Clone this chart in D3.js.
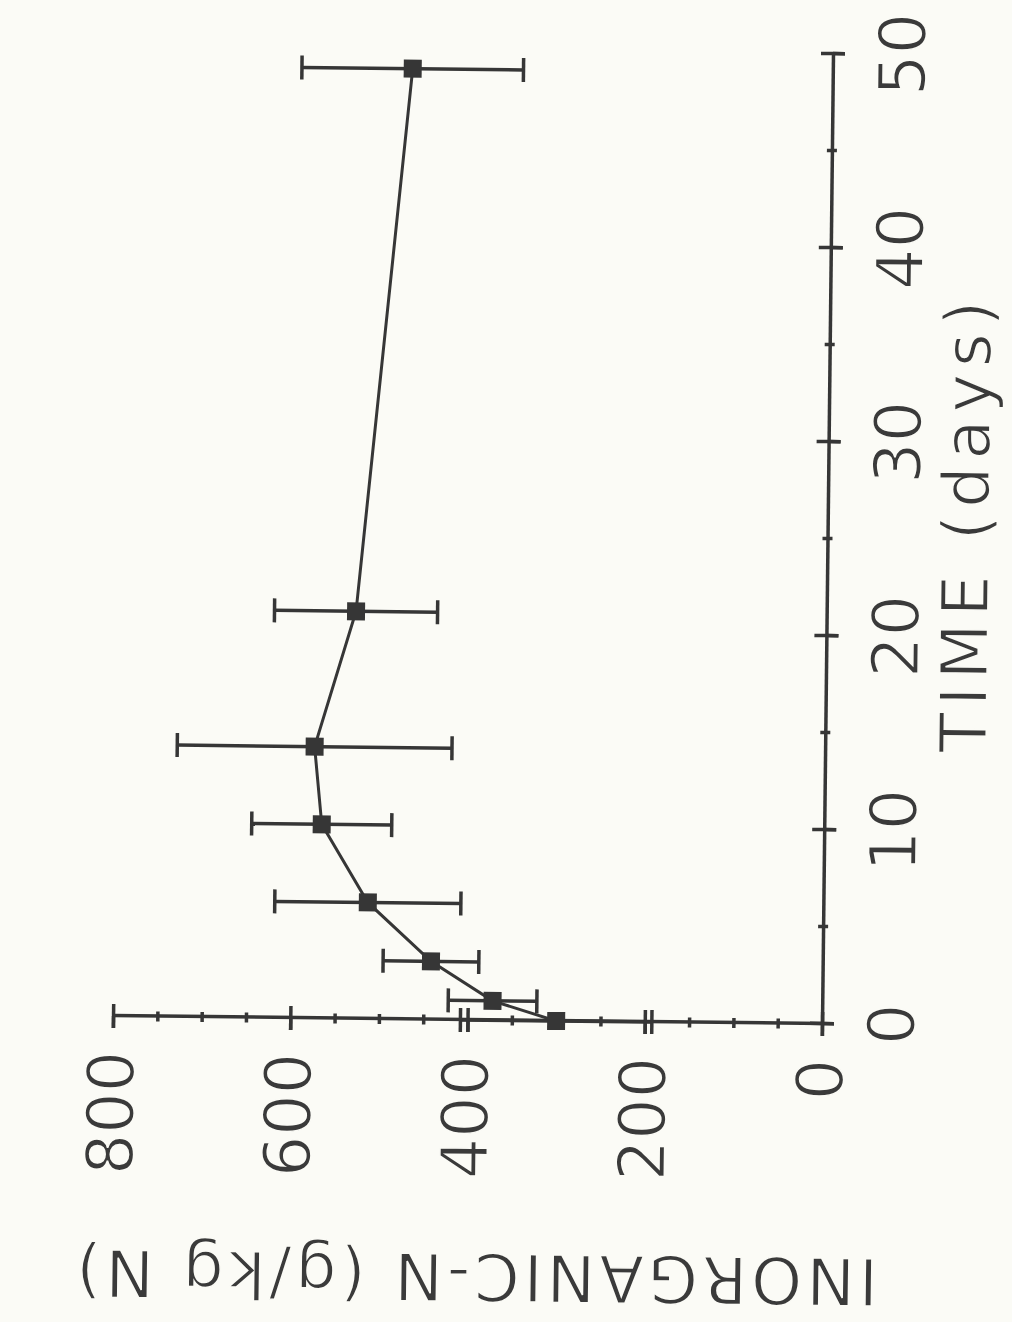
<!DOCTYPE html>
<html lang="en">
<head>
    <meta charset="UTF-8">
    <title>Inorganic N over time</title>
    <script src="https://cdn.jsdelivr.net/npm/d3@7"></script>
    <style>
        html, body {
            margin: 0;
            padding: 0;
            background: #fbfbf6;
        }
        .axis path, .axis line, .err, .cap {
            stroke: #363636;
            stroke-width: 3.5px;
        }
        .trend {
            fill: none;
            stroke: #363636;
            stroke-width: 3px;
        }
        /* thin the glyphs a little so they look like pen strokes */
        text {
            font-family: "DejaVu Sans", sans-serif;
            fill: #3a3a3a;
            stroke: #fbfbf6;
            stroke-width: 1.5px;
        }
    </style>
</head>
<body>
</body>
<script>
    // data
    const timeDays = [0, 1, 3, 6, 10, 14, 21, 49];
    const inorganicN = [300, 372, 442, 514, 567, 576, 531, 474];
    const errN = [108, 50, 54, 105, 79, 155, 92, 125];

    const timeTicks = [0, 10, 20, 30, 40, 50];
    const timeMinor = [5, 15, 25, 35, 45];
    const nTicks = [0, 200, 400, 600, 800];
    const nMinor = [50, 100, 150, 250, 300, 350, 450, 500, 550, 650, 700, 750];

    const width = 1012, height = 1322;
    // the printed page is turned on its side and slightly tilted
    const ox = 822, oy = 1024, tilt = 0.65;
    const fontSize = 65;

    let svg = d3.select('body').append('svg')
        .attr('width', width)
        .attr('height', height);

    svg.append('rect')
        .attr('width', width)
        .attr('height', height)
        .attr('fill', '#fbfbf6');

    let g = svg.append('g')
        .attr('transform', `rotate(${tilt},${ox},${oy}) translate(${ox},${oy}) rotate(-90)`);

    let x = d3.scaleLinear().domain([0, 50]).range([0, 970]);
    let y = d3.scaleLinear().domain([0, 800]).range([0, -709]);

    // ticks drawn through the axis line on both sides
    function crossTicks(a, b, scale, values, size) {
        [a, b].forEach(orient => {
            g.append('g').classed('axis', true)
                .call(orient(scale).tickValues(values).tickSize(size).tickSizeOuter(0).tickFormat(''))
                .call(s => s.select('.domain').remove());
        });
    }

    crossTicks(d3.axisBottom, d3.axisTop, x, timeMinor, 5);
    crossTicks(d3.axisBottom, d3.axisTop, x, timeTicks, 12);
    crossTicks(d3.axisLeft, d3.axisRight, y, nMinor, 5);
    crossTicks(d3.axisLeft, d3.axisRight, y, nTicks, 12);

    let xAxis = g.append('g').classed('axis', true)
        .call(d3.axisBottom(x).tickValues(timeTicks).tickSize(12).tickSizeOuter(0).tickPadding(34));

    let yAxis = g.append('g').classed('axis', true)
        .call(d3.axisLeft(y).tickValues(nTicks).tickSize(12).tickSizeOuter(0).tickPadding(23));

    [xAxis, yAxis].forEach(a => {
        a.attr('font-family', null).attr('font-size', null);
        a.selectAll('text')
            .attr('font-size', fontSize)
            .attr('fill', '#3a3a3a');
    });

    // error bars
    let bars = g.append('g').selectAll('g')
        .data(timeDays.map((t, i) => ({t: t, v: inorganicN[i], e: errN[i]})))
        .enter().append('g');

    bars.append('line').classed('err', true)
        .attr('x1', d => x(d.t)).attr('x2', d => x(d.t))
        .attr('y1', d => y(d.v - d.e)).attr('y2', d => y(d.v + d.e));

    bars.selectAll('.cap')
        .data(d => [[d.t, d.v - d.e], [d.t, d.v + d.e]])
        .enter().append('line').classed('cap', true)
        .attr('x1', d => x(d[0]) - 12).attr('x2', d => x(d[0]) + 12)
        .attr('y1', d => y(d[1])).attr('y2', d => y(d[1]));

    let line = d3.line()
        .x((d, i) => x(timeDays[i]))
        .y(d => y(d));

    g.append('path').classed('trend', true)
        .attr('d', line(inorganicN));

    g.append('g').selectAll('rect')
        .data(inorganicN)
        .enter().append('rect')
        .attr('x', (d, i) => x(timeDays[i]) - 9)
        .attr('y', d => y(d) - 9)
        .attr('width', 18)
        .attr('height', 18)
        .attr('fill', '#363636');

    // axis titles
    g.append('text')
        .attr('x', x(25) + 14)
        .attr('y', 161)
        .attr('text-anchor', 'middle')
        .attr('font-size', fontSize)
        .attr('textLength', 452)
        .attr('lengthAdjust', 'spacing')
        .text('TIME (days)');

    g.append('text')
        .attr('transform', `translate(-234,${y(386)}) rotate(-90)`)
        .attr('text-anchor', 'middle')
        .attr('font-size', fontSize)
        .attr('textLength', 802)
        .attr('lengthAdjust', 'spacing')
        .text('INORGANIC-N (g/kg N)');
</script>
</html>
